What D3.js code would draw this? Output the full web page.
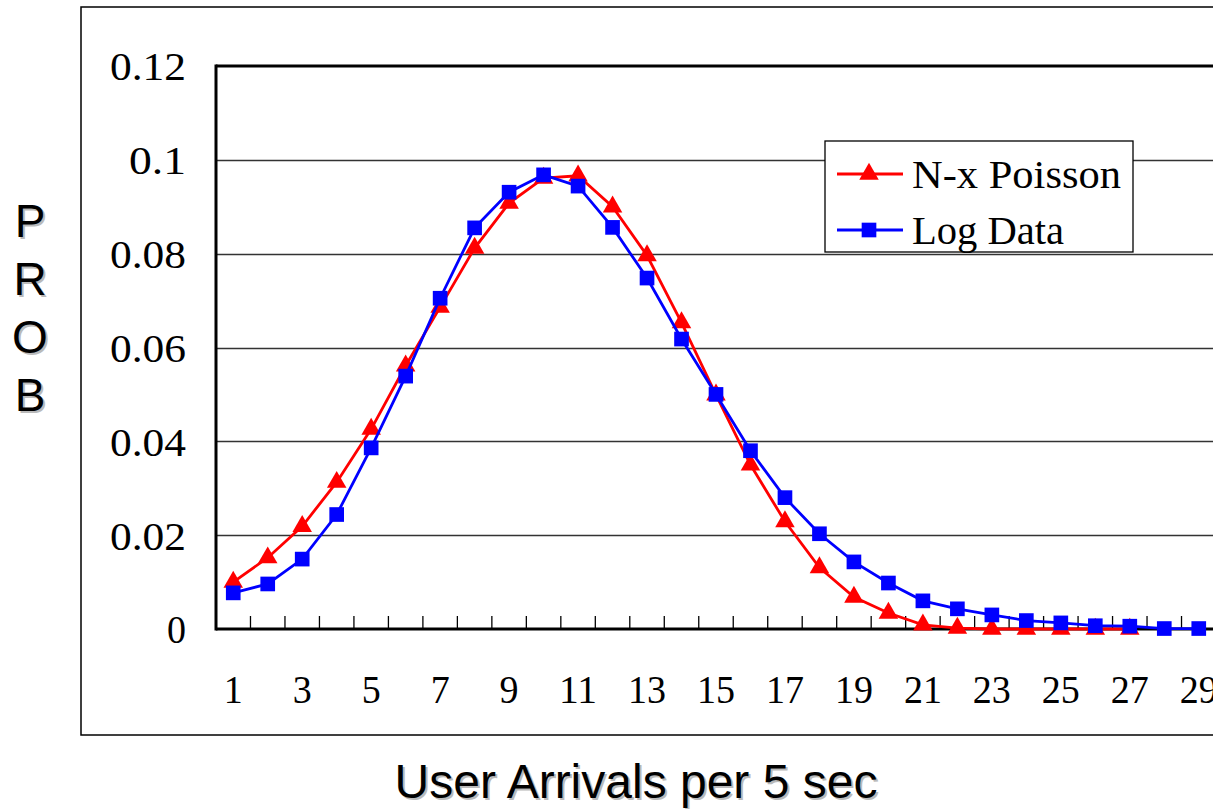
<!DOCTYPE html>
<html>
<head>
<meta charset="utf-8">
<script src="https://cdn.jsdelivr.net/npm/d3@7"></script>
<style>
  html, body { margin: 0; padding: 0; background: #fff; overflow: hidden; }
  svg { display: block; }
</style>
</head>
<body>
<svg id="chart" width="1213" height="809"></svg>
<script>
// Arrivals per 5-second interval
const arrivals = d3.range(1, 30);

// Model: N-x Poisson probabilities (arrivals 1..27)
const poissonProb = [
  0.0100, 0.0152, 0.0219, 0.0313, 0.0426, 0.0561, 0.0686, 0.0812, 0.0908, 0.0961,
  0.0966, 0.0900, 0.0796, 0.0653, 0.0499, 0.0350, 0.0229, 0.0131, 0.0068, 0.0034,
  0.0009, 0.0002, 0.0000, 0.0000, 0.0000, 0.0000, 0.0000
];

// Measured: log data probabilities (arrivals 1..29)
const logProb = [
  0.0077, 0.0096, 0.0149, 0.0244, 0.0386, 0.0539, 0.0705, 0.0855, 0.0931, 0.0968,
  0.0944, 0.0856, 0.0748, 0.0618, 0.0500, 0.0380, 0.0280, 0.0203, 0.0143, 0.0098,
  0.0060, 0.0043, 0.0030, 0.0018, 0.0013, 0.0007, 0.0006, 0.0001, 0.0001
];

const yTickValues = [0, 0.02, 0.04, 0.06, 0.08, 0.1, 0.12];
const yTickLabels = ["0", "0.02", "0.04", "0.06", "0.08", "0.1", "0.12"];
const xTickValues = arrivals.filter(d => d % 2 === 1);

const seriesNames = ["N-x Poisson", "Log Data"];
const seriesColors = ["#ff0000", "#0000ff"];

const svg = d3.select("#chart");
const plot = { left: 216, right: 1216, top: 66, bottom: 629 };
const FONT_SERIF = "'Liberation Serif', 'DejaVu Serif', serif";
const FONT_SANS = "'Liberation Sans', Arial, sans-serif";
const CHAR_W = 19;   // half-width cell used for the serif labels
const SERIF_SIZE = 41;

// fit a serif label into fixed-width character cells
function cellText(sel) {
  sel.attr("font-family", FONT_SERIF).attr("font-size", SERIF_SIZE).attr("fill", "#000")
    .each(function() {
      const t = d3.select(this);
      t.attr("textLength", t.text().length * CHAR_W).attr("lengthAdjust", "spacingAndGlyphs");
    });
}

const x = d3.scaleBand().domain(arrivals).range([plot.left, plot.right]).padding(0);
const xc = d => x(d) + x.bandwidth() / 2;
const y = d3.scaleLinear().domain([0, 0.12]).range([plot.bottom, plot.top]);

// outer chart frame
svg.append("rect")
  .attr("x", 81).attr("y", 7).attr("width", 1250).attr("height", 728)
  .attr("fill", "none").attr("stroke", "#000").attr("stroke-width", 1.5);

// horizontal gridlines
svg.append("g")
  .selectAll("line")
  .data(yTickValues.filter(v => v > 0 && v < 0.12))
  .join("line")
  .attr("x1", plot.left).attr("x2", plot.right + 20)
  .attr("y1", d => Math.round(y(d)) + 0.5).attr("y2", d => Math.round(y(d)) + 0.5)
  .attr("stroke", "#333").attr("stroke-width", 1.4);

// top border of the plot area
svg.append("line")
  .attr("x1", plot.left).attr("x2", plot.right + 20)
  .attr("y1", y(0.12)).attr("y2", y(0.12))
  .attr("stroke", "#000").attr("stroke-width", 3);

// y axis labels
const yAxis = d3.axisLeft(y).tickValues(yTickValues)
  .tickFormat((d, i) => yTickLabels[i]).tickSize(0).tickPadding(30);
const gy = svg.append("g").attr("transform", `translate(${plot.left},0)`).call(yAxis);
gy.select(".domain").remove();
gy.selectAll("text").call(cellText).attr("dy", "0.34em");

// x axis: labels at odd categories
const xAxis = d3.axisBottom(x).tickValues(xTickValues).tickSize(0).tickPadding(74);
const gx = svg.append("g").attr("transform", `translate(0,${plot.bottom})`).call(xAxis);
gx.select(".domain").remove();
gx.selectAll("text").call(cellText).attr("dy", "0");

// inward tick marks at category boundaries
svg.append("g")
  .selectAll("line")
  .data(arrivals.slice(1))
  .join("line")
  .attr("x1", d => x(d)).attr("x2", d => x(d))
  .attr("y1", plot.bottom).attr("y2", plot.bottom - 13)
  .attr("stroke", "#000").attr("stroke-width", 1.3);

// axis lines
svg.append("line")
  .attr("x1", plot.left).attr("x2", plot.left)
  .attr("y1", plot.top - 1.5).attr("y2", plot.bottom + 1.5)
  .attr("stroke", "#000").attr("stroke-width", 3);
svg.append("line")
  .attr("x1", plot.left).attr("x2", plot.right + 20)
  .attr("y1", plot.bottom).attr("y2", plot.bottom)
  .attr("stroke", "#000").attr("stroke-width", 3);

// series
const line = d3.line().x(d => xc(d[0])).y(d => y(d[1]));
const triangle = d3.symbol().type(d3.symbolTriangle).size(165);
const square = d3.symbol().type(d3.symbolSquare).size(215);

const redPts = poissonProb.map((v, i) => [arrivals[i], v]);
const bluePts = logProb.map((v, i) => [arrivals[i], v]);

svg.append("path").datum(redPts).attr("d", line)
  .attr("fill", "none").attr("stroke", seriesColors[0]).attr("stroke-width", 2.8);
svg.append("g").selectAll("path").data(redPts).join("path")
  .attr("d", triangle)
  .attr("transform", d => `translate(${xc(d[0])},${y(d[1])})`)
  .attr("fill", seriesColors[0]);

svg.append("path").datum(bluePts).attr("d", line)
  .attr("fill", "none").attr("stroke", seriesColors[1]).attr("stroke-width", 2.8);
svg.append("g").selectAll("path").data(bluePts).join("path")
  .attr("d", square)
  .attr("transform", d => `translate(${xc(d[0])},${y(d[1])})`)
  .attr("fill", seriesColors[1]);

// legend
const legend = svg.append("g");
legend.append("rect")
  .attr("x", 825).attr("y", 141).attr("width", 308).attr("height", 111)
  .attr("fill", "#fff").attr("stroke", "#000").attr("stroke-width", 1.3);
const rows = [174, 230];
seriesNames.forEach((name, i) => {
  const g = legend.append("g");
  g.append("line")
    .attr("x1", 837).attr("x2", 903).attr("y1", rows[i]).attr("y2", rows[i])
    .attr("stroke", seriesColors[i]).attr("stroke-width", 2.8);
  g.append("path")
    .attr("d", i === 0 ? triangle() : square())
    .attr("transform", `translate(869,${rows[i]})`)
    .attr("fill", seriesColors[i]);
  g.append("text")
    .attr("x", 912).attr("y", rows[i] + 14)
    .text(name)
    .call(cellText);
});

// axis titles with a soft shadow
function shadowText(xp, yp, str, size) {
  svg.append("text").attr("x", xp + 2).attr("y", yp + 2)
    .attr("font-family", FONT_SANS).attr("font-size", size)
    .attr("text-anchor", "middle").attr("fill", "#aaa").attr("opacity", 0.8)
    .text(str);
  svg.append("text").attr("x", xp).attr("y", yp)
    .attr("font-family", FONT_SANS).attr("font-size", size)
    .attr("text-anchor", "middle").attr("fill", "#000")
    .text(str);
}
["P", "R", "O", "B"].forEach((ch, i) => shadowText(30, 237 + i * 58, ch, 46));
shadowText(636, 798, "User Arrivals per 5 sec", 48);
</script>
</body>
</html>
